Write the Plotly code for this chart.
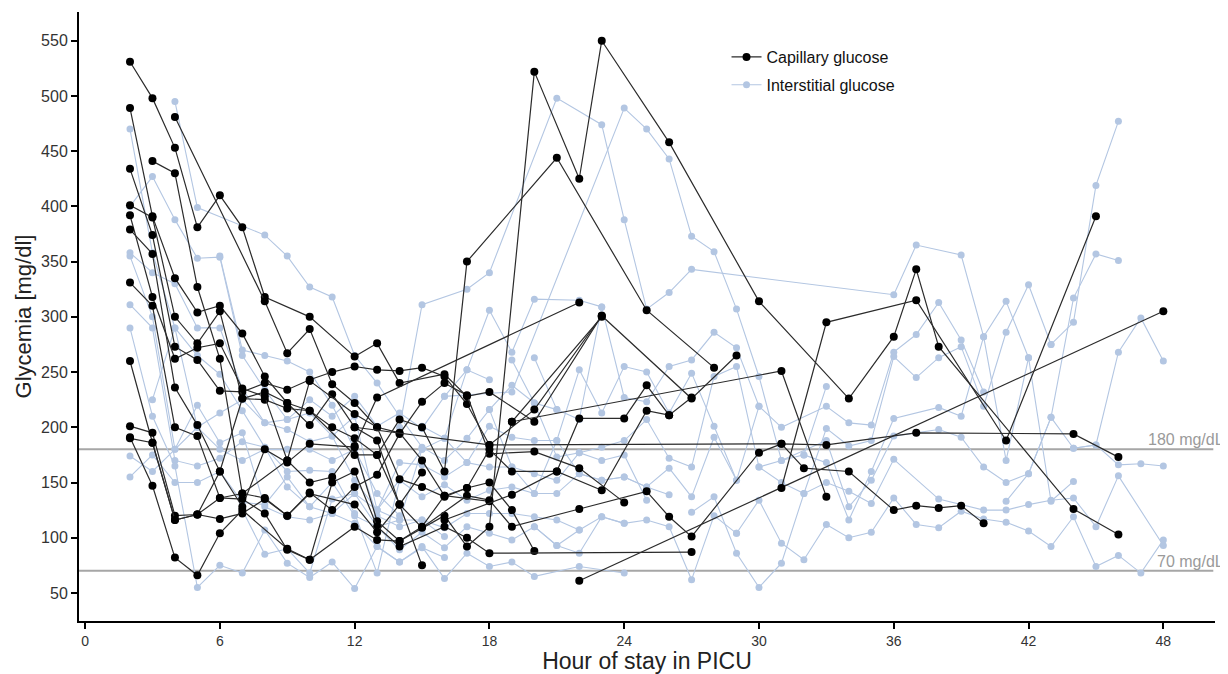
import plotly.graph_objects as go

# ---- Capillary glucose series: (hour, mg/dl) ----
cap_01 = [(2,531),(3,498),(4,453),(5,381),(6,410),(7,381),(8,318),(10,300),(12,264),(13,276),(14,240),(16,248),(17,228),(18,232),(20,205),(23,301),(27,226),(29,265)]
cap_02 = [(2,489),(3,391),(4,335),(5,304),(6,310),(7,285),(8,246),(9,222),(10,202),(11,230),(12,200),(13,188),(14,130),(15,75)]
cap_03 = [(2,434),(3,374),(4,273),(5,261),(6,233),(7,232),(8,240),(9,234),(10,243),(11,250),(12,255),(13,252),(14,251),(15,254),(16,246),(17,221),(18,184),(20,216),(23,301)]
cap_04 = [(3,441),(4,430),(5,327),(6,262),(7,140),(8,136),(9,120),(10,141),(11,125),(12,146),(13,157),(14,194),(15,223),(16,240),(17,229),(18,176),(20,178),(22,163),(24,132)]
cap_05 = [(4,481),(8,314),(9,267),(10,289),(11,239),(12,222),(13,200),(14,153),(15,146),(16,137),(17,145),(18,150),(19,125),(20,88)]
cap_06 = [(2,401),(3,390),(4,300),(5,276),(6,305),(7,226),(8,225),(9,217),(10,215),(11,200),(12,190),(13,175),(14,207),(15,200),(16,160),(17,350),(21,444),(25,306),(28,254)]
cap_07 = [(2,392),(3,318),(4,262),(5,272),(6,276),(7,235),(8,228),(9,170),(10,150),(11,155),(12,183),(13,227),(22,313)]
cap_08 = [(2,379),(3,357),(4,236),(5,202),(6,160),(7,128),(8,180),(9,168),(10,185),(12,182),(13,115),(14,97),(16,120),(17,92),(18,110),(20,522),(22,425),(23,550),(26,458),(30,314),(34,226),(36,282),(37,343),(38,273),(44,126),(46,103)]
cap_09 = [(2,331),(3,310),(4,200),(5,192),(6,136),(7,135),(8,122),(9,89),(10,80),(11,150),(12,160),(13,110),(14,92),(16,110),(17,100),(18,86),(27,87)]
cap_10 = [(2,260),(3,186),(4,116),(5,121),(6,117),(7,122),(8,135),(9,120),(10,140),(12,130),(13,105),(14,130),(15,109),(17,138),(18,134),(19,110),(22,126),(25,142),(26,119),(27,101),(30,177),(31,185),(33,184),(37,195),(44,194),(46,173)]
cap_11 = [(2,201),(3,195),(4,120),(5,121),(6,136),(7,140),(9,170),(10,242),(12,212),(13,200),(14,195),(15,170),(16,138),(17,145),(18,180),(19,160),(21,160),(22,208),(24,208),(25,238),(26,211),(27,227)]
cap_12 = [(2,191),(3,147),(4,82),(5,66),(6,104),(7,125),(9,90),(10,80),(12,110),(13,98),(14,97),(15,110),(16,138),(18,133),(19,205),(23,300)]
cap_13 = [(2,190),(3,186),(4,116),(5,121),(6,160),(7,226),(8,232),(9,222),(10,215),(12,175),(13,175),(14,130),(15,159)]
cap_14 = [(22,61),(48,305)]
cap_15 = [(31,145),(33,295),(37,315),(41,188),(45,391)]
cap_16 = [(19,205),(31,251),(33,137)]
cap_17 = [(12,200),(18,184),(31,185),(32,163),(34,160),(36,125),(37,129),(38,127),(39,129),(40,113)]
cap_18 = [(16,116),(19,139),(21,160),(23,143),(25,215),(26,211)]

# ---- Interstitial glucose series: (hour, mg/dl) ----
int_01 = [(2,470),(3,358),(4,290),(5,265),(6,248),(7,215),(8,182),(9,146),(10,128),(11,122),(12,113),(13,92),(14,78),(15,91),(16,82)]
int_02 = [(2,400),(3,427),(4,388),(5,353),(6,354),(7,265),(8,234),(9,207),(10,225),(11,210),(12,228),(13,201),(14,213),(15,199),(16,228),(17,252),(18,243)]
int_03 = [(4,495),(5,399),(8,374),(9,355),(10,327),(11,318),(12,265),(13,240),(14,210),(15,182),(16,170),(17,190),(18,216),(19,238),(20,222),(21,216)]
int_04 = [(2,358),(3,340),(4,330),(5,290),(6,290),(7,235),(8,204),(9,198),(10,187),(11,192),(12,152),(13,125),(14,116),(15,116),(16,109),(17,122),(18,122),(19,122),(20,119),(21,116),(22,107)]
int_05 = [(2,355),(3,300),(4,180),(5,220),(6,186),(7,195),(8,128),(9,119),(10,116),(11,122),(12,140),(13,110),(14,89),(15,105),(16,91),(17,110),(18,104),(19,98),(20,110),(21,93),(22,86),(23,119),(24,113)]
int_06 = [(2,311),(3,290),(4,170),(5,165),(6,172),(7,187),(8,182),(9,160),(10,161),(11,160),(12,122),(13,68),(14,152),(15,137),(16,148),(17,134),(18,143),(19,146),(20,140),(21,140),(22,158),(23,152),(24,155),(25,146),(26,139)]
int_07 = [(2,290),(3,210),(4,165),(5,55),(6,75),(7,68),(8,107),(9,77),(10,64),(11,78),(12,54),(13,92),(14,78),(15,92),(16,63),(17,86),(18,74),(19,78),(20,65),(22,74),(24,68)]
int_08 = [(2,174),(3,160),(4,180),(5,200),(6,213),(7,225),(8,204),(9,207),(10,213),(11,192),(12,210),(13,125),(14,168),(15,166),(16,155),(17,168),(18,164),(19,164),(20,158),(21,152),(22,177),(23,170),(24,175),(25,134)]
int_09 = [(2,155),(3,175),(4,150),(5,150),(6,160),(7,132),(8,130),(9,155),(10,128),(11,150),(12,120),(13,110),(14,116),(15,180),(16,190),(17,168),(18,201),(19,191),(20,188),(21,188),(22,252),(23,213),(24,255),(25,250),(26,213),(27,249),(28,201),(29,152)]
int_10 = [(14,200),(15,311),(17,325),(18,340),(21,498),(23,474),(24,388),(25,307),(26,322),(27,343),(36,320),(37,365),(39,356),(40,282),(41,314),(42,263)]
int_11 = [(16,228),(19,232),(24,489),(25,470),(26,443),(27,373),(28,359),(29,307),(30,246),(31,170),(32,175),(33,237)]
int_12 = [(20,263),(21,216),(22,207),(23,309),(24,227),(25,223),(26,255),(27,261),(28,286),(29,272),(30,219),(31,200),(33,219),(34,204),(35,202),(36,268),(37,284),(38,313),(39,279),(40,232)]
int_13 = [(19,261),(20,222),(21,173),(22,177),(23,182),(24,188),(25,207),(26,172),(27,164),(28,246),(29,255),(30,164),(31,150),(32,140),(33,199),(34,183),(35,188),(36,264),(37,245),(38,263),(39,273),(40,219),(41,286),(42,329),(43,275)]
int_14 = [(29,104),(30,134),(31,95),(32,80),(33,112),(34,100),(35,105),(36,136),(37,112),(38,109),(39,124),(40,117),(41,114),(42,106),(43,92),(44,119),(45,74),(46,84),(47,68),(48,98)]
int_15 = [(27,123),(28,137),(29,86),(30,55),(31,77),(32,140),(33,150),(34,142),(35,131),(36,171),(38,135),(40,125),(41,125),(42,130),(43,134),(44,136),(45,110),(46,156),(48,93)]
int_16 = [(30,164),(31,170),(33,188),(34,128),(35,152),(36,192),(38,198),(39,191),(40,164),(41,150),(42,158),(43,209),(44,181),(45,184),(46,166),(47,167),(48,165)]
int_17 = [(32,175),(33,168),(34,116),(35,160),(36,208),(38,218),(39,210),(40,282),(41,170),(42,263),(43,133),(44,151)]
int_18 = [(41,133),(42,158),(43,209),(44,317),(45,357),(46,351)]
int_19 = [(43,275),(44,295),(45,419),(46,477)]
int_20 = [(44,181),(45,184),(46,268),(47,299),(48,260)]
int_21 = [(15,201),(16,190),(17,252),(18,306),(19,268),(20,316),(22,315),(23,309)]
int_22 = [(20,110),(21,93),(22,107),(23,119),(24,113),(25,116),(26,110),(27,62),(28,120),(29,104)]
int_23 = [(18,216),(19,164),(20,140),(21,188),(22,158),(23,152),(24,155),(25,146),(26,163),(27,137),(28,191),(29,152),(30,219)]
int_24 = [(6,355),(7,270),(8,265),(9,260),(10,250),(11,220),(12,180),(13,140),(14,120)]
int_25 = [(3,225),(4,290),(5,200),(6,180),(7,170),(8,180),(9,180),(10,180),(11,170),(12,180),(13,120),(14,110),(15,116),(16,101)]
int_26 = [(7,125),(8,85),(9,90),(10,68),(11,135),(12,140),(13,125),(14,152),(15,180)]

capillary = [cap_01, cap_02, cap_03, cap_04, cap_05, cap_06, cap_07, cap_08, cap_09,
             cap_10, cap_11, cap_12, cap_13, cap_14, cap_15, cap_16, cap_17, cap_18]
interstitial = [int_01, int_02, int_03, int_04, int_05, int_06, int_07, int_08, int_09,
                int_10, int_11, int_12, int_13, int_14, int_15, int_16, int_17, int_18,
                int_19, int_20, int_21, int_22, int_23, int_24, int_25, int_26]

x_ticks = [0, 6, 12, 18, 24, 30, 36, 42, 48]
y_ticks = [50, 100, 150, 200, 250, 300, 350, 400, 450, 500, 550]
thresholds = [180, 70]
threshold_labels = ["180 mg/dL", "70 mg/dL"]

BLUE = "#b3c6e2"
fig = go.Figure()

for i, s in enumerate(interstitial):
    fig.add_trace(go.Scatter(
        x=[p[0] for p in s], y=[p[1] for p in s], mode="lines+markers",
        line=dict(color=BLUE, width=1.1), marker=dict(color=BLUE, size=7),
        name="Interstitial glucose", legendgroup="int", showlegend=(i == 0), legendrank=2))

for i, s in enumerate(capillary):
    fig.add_trace(go.Scatter(
        x=[p[0] for p in s], y=[p[1] for p in s], mode="lines+markers",
        line=dict(color="#2b2b2b", width=1.2), marker=dict(color="black", size=8),
        name="Capillary glucose", legendgroup="cap", showlegend=(i == 0), legendrank=1))

for t, lab in zip(thresholds, threshold_labels):
    fig.add_shape(type="line", xref="paper", x0=0, x1=0.9985, yref="y", y0=t, y1=t,
                  line=dict(color="#a6a6a6", width=2), layer="below")
    fig.add_annotation(xref="paper", x=1.0097, yref="y", y=t, text=lab, showarrow=False,
                       xanchor="right", yanchor="bottom", yshift=-1,
                       font=dict(family="Liberation Sans, Arial, sans-serif", size=16, color="#9a9a9a"))

fig.update_layout(
    width=1220, height=666,
    margin=dict(l=71, r=13, t=4, b=53),
    paper_bgcolor="white", plot_bgcolor="white",
    font=dict(family="Liberation Sans, Arial, sans-serif", color="#222"),
    showlegend=True,
    legend=dict(x=0.570, y=0.954, xanchor="left", yanchor="top",
                font=dict(size=16, color="#111"), bgcolor="rgba(0,0,0,0)",
                itemwidth=30, tracegroupgap=4),
    xaxis=dict(range=[-0.27, 50.3], tickmode="array", tickvals=x_ticks,
               showline=True, linecolor="black", linewidth=2, showgrid=False, zeroline=False,
               ticks="outside", ticklen=6, tickwidth=1.5, tickcolor="black",
               tickfont=dict(family="Liberation Sans Narrow, Arial Narrow, Liberation Sans, sans-serif", size=14, color="#333"),
               title=dict(text="Hour of stay in PICU", standoff=5,
                          font=dict(family="Liberation Sans, Arial, sans-serif", size=23, color="#222"))),
    yaxis=dict(range=[24.6, 576], tickmode="array", tickvals=y_ticks,
               showline=True, linecolor="black", linewidth=2, showgrid=False, zeroline=False,
               ticks="outside", ticklen=6, tickwidth=1.5, tickcolor="black",
               tickfont=dict(size=16, color="#333"),
               title=dict(text="Glycemia [mg/dl]", standoff=3, font=dict(size=22, color="#222"))),
)

fig.write_html("out.html")
